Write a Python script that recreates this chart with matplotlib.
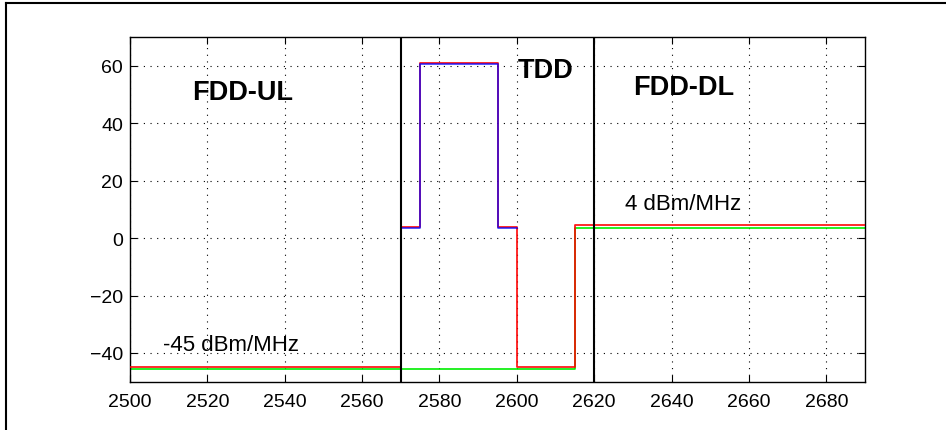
import matplotlib
matplotlib.use("Agg")
import matplotlib.pyplot as plt
from matplotlib.lines import Line2D

plt.rcParams['font.family'] = ['Liberation Sans', 'DejaVu Sans']

# Step edges (MHz) and levels (dBm/MHz)
red_x = [2500, 2570, 2570, 2575, 2575, 2595, 2595, 2600, 2600, 2615, 2615, 2690]
red_y = [-45, -45, 4, 4, 61, 61, 4, 4, -45, -45, 4.5, 4.5]
blue_x = [2570, 2575, 2575, 2595, 2595, 2600]
blue_y = [3.5, 3.5, 60.5, 60.5, 3.5, 3.5]
green_x = [2500, 2615, 2615, 2690]
green_y = [-45.5, -45.5, 3.5, 3.5]
band_edges = [2570, 2620]

xticks = [2500, 2520, 2540, 2560, 2580, 2600, 2620, 2640, 2660, 2680]
yticks = [-40, -20, 0, 20, 40, 60]

fig = plt.figure(figsize=(9.46, 4.31), dpi=100)
ax = fig.add_axes([0.1374, 0.112, 0.777, 0.800])

ax.plot(green_x, green_y, color='#00ee00', lw=1.2, zorder=2)
ax.plot(red_x, red_y, color='red', lw=1.3, alpha=0.9, zorder=3)
ax.plot(blue_x, blue_y, color='blue', lw=1.2, alpha=0.8, zorder=4)
for xe in band_edges:
    ax.axvline(xe, color='black', lw=1.5, zorder=5)

ax.set_xlim(2500, 2690)
ax.set_ylim(-50, 70)
ax.set_xticks(xticks)
ax.set_yticks(yticks)
ax.set_yticklabels(['\u221240', '\u221220', '0', '20', '40', '60'])
ax.grid(True, color='black', linestyle=(0, (1, 5)), lw=0.8)
ax.tick_params(direction='in', top=True, right=True, length=5, labelsize=14)
ax.tick_params(axis='x', pad=8)
ax.tick_params(axis='y', pad=5)
for s in ax.spines.values():
    s.set_linewidth(1.0)

ax.text(2529, 51, 'FDD-UL', fontsize=19.5, fontweight='bold', ha='center', va='center')
ax.text(2607.5, 58.5, 'TDD', fontsize=19.5, fontweight='bold', ha='center', va='center')
ax.text(2643, 52.5, 'FDD-DL', fontsize=19.5, fontweight='bold', ha='center', va='center')
ax.text(2508.5, -37, '-45 dBm/MHz', fontsize=16, ha='left', va='center')
ax.text(2628, 12, '4 dBm/MHz', fontsize=16, ha='left', va='center')

# partial outer frame (left and top)
fig.add_artist(Line2D([5.5/946, 5.5/946], [0, 1 - 4/431], color='black', lw=1.5, transform=fig.transFigure))
fig.add_artist(Line2D([5.5/946, 1], [1 - 4/431, 1 - 4/431], color='black', lw=1.5, transform=fig.transFigure))

fig.savefig('out.png', dpi=100)
